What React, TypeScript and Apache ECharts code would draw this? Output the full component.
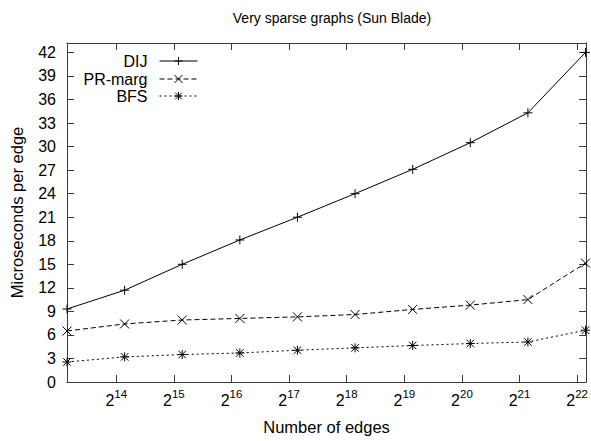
import React, { useEffect, useRef } from "react";
import * as echarts from "echarts";

// log2 of the number of edges for each measurement
const edgesLog2 = [13.145, 14.145, 15.145, 16.145, 17.145, 18.145, 19.145, 20.145, 21.145, 22.145];
const dij = [9.3, 11.7, 15.0, 18.1, 21.0, 24.0, 27.1, 30.5, 34.3, 42.0];
const prMarg = [6.5, 7.4, 7.9, 8.1, 8.3, 8.6, 9.25, 9.8, 10.5, 15.15];
const bfs = [2.55, 3.2, 3.5, 3.7, 4.05, 4.35, 4.65, 4.9, 5.1, 6.6];
const xTickExps = [14, 15, 16, 17, 18, 19, 20, 21, 22];
const seriesNames = ["DIJ", "PR-marg", "BFS"];

const FONT = "'Liberation Sans', Arial, Helvetica, sans-serif";
const FRAME = "#3a3a3a";

const plusPath = "path://M0,5L10,5M5,0L5,10";
const crossPath = "path://M0,0L10,10M10,0L0,10";
const starPath = "path://M0,5L10,5M5,0L5,10M0.8,0.8L9.2,9.2M9.2,0.8L0.8,9.2";

export default function App() {
  const ref = useRef<HTMLDivElement>(null);
  useEffect(() => {
    const chart = echarts.init(ref.current!, null, { renderer: "svg" });
    const mk = (ys: number[]) => edgesLog2.map((x, i) => [x, ys[i]]);
    const lineSeries = (name: string, ys: number[], symbol: string, type: any) => ({
      name,
      type: "line",
      data: mk(ys),
      symbol,
      symbolSize: 9,
      showAllSymbol: true,
      lineStyle: { color: "#000", width: 1, type },
      itemStyle: { color: "#000", borderColor: "#000", borderWidth: 1 },
      emphasis: { disabled: true },
      z: 3,
    });
    const legendAt = (name: string, top: number) => ({
      data: [name],
      orient: "vertical",
      right: 591 - 198,
      top,
      align: "right",
      itemWidth: 38,
      itemHeight: 10,
      itemGap: 0,
      padding: 0,
      lineStyle: { width: 1, color: "#000" },
      itemStyle: { borderWidth: 1, borderColor: "#000" },
      textStyle: { fontFamily: FONT, fontSize: 16, color: "#000", padding: [0, 7, 0, 0] },
      selectedMode: false,
    });
    const tickVals = xTickExps.slice();
    chart.setOption({
      animation: false,
      backgroundColor: "#fff",
      title: {
        text: "Very sparse graphs (Sun Blade)",
        left: 327,
        top: 6,
        textAlign: "center",
        textStyle: { fontFamily: FONT, fontSize: 14, fontWeight: "normal", color: "#000" },
      },
      legend: [legendAt("DIJ", 53), legendAt("PR-marg", 71), legendAt("BFS", 88)],
      grid: { left: 67, right: 2, top: 43, bottom: 59, containLabel: false },
      xAxis: [
        {
          type: "value",
          min: 13.145,
          max: 22.155,
          position: "bottom",
          name: "Number of edges",
          nameLocation: "middle",
          nameGap: 36,
          nameTextStyle: { fontFamily: FONT, fontSize: 16.5, color: "#000" },
          axisLine: { show: true, onZero: false, lineStyle: { color: FRAME, width: 1 } },
          axisTick: { show: true, inside: true, length: 7, customValues: tickVals, lineStyle: { color: FRAME } },
          axisLabel: {
            show: true,
            customValues: tickVals,
            margin: 6,
            formatter: (v: number) => `{b|2}{s|${Math.round(v)}}`,
            rich: {
              b: { fontFamily: FONT, fontSize: 16, color: "#000", verticalAlign: "bottom", lineHeight: 20 },
              s: { fontFamily: FONT, fontSize: 11.5, color: "#000", verticalAlign: "top", lineHeight: 20, padding: [0, 0, 8, 0] },
            },
          },
          splitLine: { show: false },
        },
        {
          type: "value",
          min: 13.145,
          max: 22.155,
          position: "top",
          axisLine: { show: true, onZero: false, lineStyle: { color: FRAME, width: 1 } },
          axisTick: { show: true, inside: true, length: 7, customValues: tickVals, lineStyle: { color: FRAME } },
          axisLabel: { show: false },
          splitLine: { show: false },
        },
      ],
      yAxis: [
        {
          type: "value",
          min: 0,
          max: 43.2,
          interval: 3,
          position: "left",
          name: "Microseconds per edge",
          nameLocation: "middle",
          nameGap: 42,
          nameTextStyle: { fontFamily: FONT, fontSize: 16.5, color: "#000" },
          axisLine: { show: true, onZero: false, lineStyle: { color: FRAME, width: 1 } },
          axisTick: { show: true, inside: true, length: 7, lineStyle: { color: FRAME } },
          axisLabel: {
            fontFamily: FONT,
            fontSize: 16,
            color: "#000",
            margin: 11,
            formatter: (v: number) => (Math.abs(v / 3 - Math.round(v / 3)) < 1e-6 ? String(Math.round(v)) : ""),
          },
          splitLine: { show: false },
        },
        {
          type: "value",
          min: 0,
          max: 43.2,
          interval: 3,
          position: "right",
          axisLine: { show: true, onZero: false, lineStyle: { color: FRAME, width: 1 } },
          axisTick: { show: true, inside: true, length: 7, lineStyle: { color: FRAME } },
          axisLabel: { show: false },
          splitLine: { show: false },
        },
      ],
      series: [
        lineSeries(seriesNames[0], dij, plusPath, "solid"),
        lineSeries(seriesNames[1], prMarg, crossPath, [5, 3]),
        lineSeries(seriesNames[2], bfs, starPath, [2, 3]),
      ],
    });
    return () => chart.dispose();
  }, []);
  return (
    <div
      ref={ref}
      style={{ position: "fixed", left: 0, top: 0, width: 591, height: 441, background: "#fff" }}
    />
  );
}
